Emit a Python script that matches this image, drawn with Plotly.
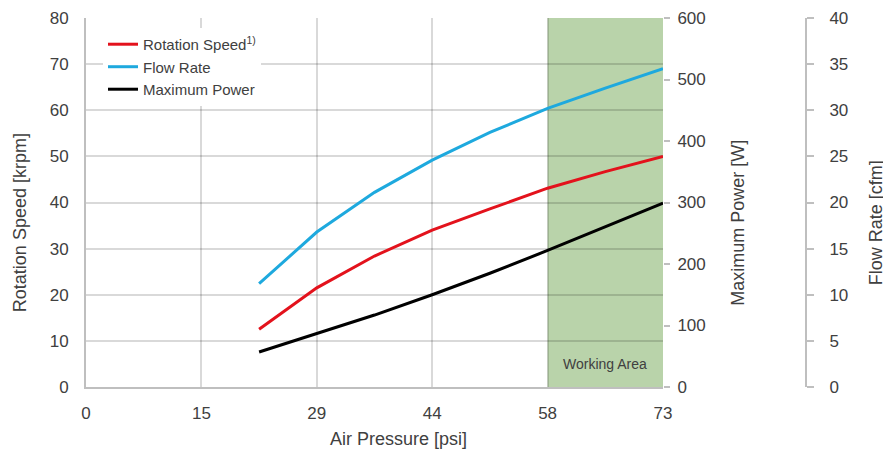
import plotly.graph_objects as go

# ---- data ----
pressure_bar = [1.5, 2.0, 2.5, 3.0, 3.5, 4.0, 4.5, 5.0]
rotation_speed_krpm = [12.5, 21.5, 28.4, 34.0, 38.6, 43.1, 46.7, 50.0]
flow_rate_cfm = [11.2, 16.8, 21.1, 24.6, 27.6, 30.2, 32.4, 34.5]
max_power_w = [57, 87, 117, 150, 185, 222, 261, 299]

x_tickvals = [0, 1, 2, 3, 4, 5]
x_ticktext = ["0", "15", "29", "44", "58", "73"]
working_area = [4, 5]

W, H = 891, 452
FONT = "Liberation Sans"
TXT = "#404040"
GRID = "rgba(0,0,0,0.15)"
AXL = "#bfbfbf"

fig = go.Figure()
fig.add_trace(go.Scatter(x=pressure_bar, y=rotation_speed_krpm, mode="lines",
                         name="Rotation Speed<sup>1)</sup>",
                         line=dict(color="#e3121c", width=3), yaxis="y"))
fig.add_trace(go.Scatter(x=pressure_bar, y=flow_rate_cfm, mode="lines",
                         name="Flow Rate",
                         line=dict(color="#1ea9de", width=3), yaxis="y3"))
fig.add_trace(go.Scatter(x=pressure_bar, y=max_power_w, mode="lines",
                         name="Maximum Power",
                         line=dict(color="#000000", width=3), yaxis="y2"))

fig.add_shape(type="rect", xref="x", yref="y domain",
              x0=working_area[0], x1=working_area[1], y0=0, y1=1,
              fillcolor="#b9d3aa", line=dict(width=0), layer="below")
fig.add_annotation(x=sum(working_area) / 2, y=5, xref="x", yref="y",
                   text="Working Area", showarrow=False,
                   font=dict(family=FONT, size=14, color=TXT))

tickfont = dict(family=FONT, size=17, color=TXT)
titlefont = dict(family=FONT, size=18, color=TXT)

# axis titles (placed as in the reference, not centred on the axes)
titles = [
    ("Air Pressure [psi]", 390 / W, -0.141, 0),
    ("Rotation Speed [krpm]", 12 / W, 0.444, -90),
    ("Maximum Power [W]", 730.5 / W, 0.444, -90),
    ("Flow Rate [cfm]", 868 / W, 0.444, -90),
]
for text, px, py, ang in titles:
    fig.add_annotation(x=px, y=py, xref="paper", yref="paper", text=text,
                       showarrow=False, textangle=ang,
                       xanchor="center", yanchor="middle",
                       font=titlefont)

fig.update_layout(
    width=W, height=H,
    margin=dict(l=0, r=0, t=10, b=73),
    paper_bgcolor="white", plot_bgcolor="white",
    font=dict(family=FONT, color=TXT),
    showlegend=True,
    legend=dict(x=95 / W, y=0.973, xanchor="left", yanchor="top",
                bgcolor="white", font=dict(family=FONT, size=15, color=TXT),
                tracegroupgap=0, itemwidth=30),
    xaxis=dict(domain=[78 / W, 655 / W], range=[0, 5],
               tickvals=x_tickvals, ticktext=x_ticktext,
               showgrid=True, gridcolor=GRID, gridwidth=1.5,
               showline=True, linecolor=AXL, linewidth=2,
               zeroline=False, ticks="", tickfont=tickfont, ticklabelstandoff=10,
               automargin=False),
    yaxis=dict(range=[0, 80], dtick=10,
               showgrid=True, gridcolor=GRID, gridwidth=1.5,
               showline=True, linecolor=AXL, linewidth=2,
               zeroline=False, ticks="", tickfont=tickfont, ticklabelstandoff=12,
               automargin=False),
    yaxis2=dict(range=[0, 600], dtick=100, overlaying="y", side="right",
                anchor="x", showgrid=False, zeroline=False, showline=False,
                ticks="outside", ticklen=6, tickcolor=AXL, tickwidth=1.5,
                tickfont=tickfont, ticklabelstandoff=4,
                automargin=False),
    yaxis3=dict(range=[0, 40], dtick=5, overlaying="y", side="right",
                anchor="free", position=798 / W, showgrid=False, zeroline=False,
                showline=True, linecolor=AXL, linewidth=2,
                ticks="outside", ticklen=7, tickcolor=AXL, tickwidth=1.5,
                tickfont=tickfont, ticklabelstandoff=12,
                automargin=False),
)

fig.write_html("out.html")
